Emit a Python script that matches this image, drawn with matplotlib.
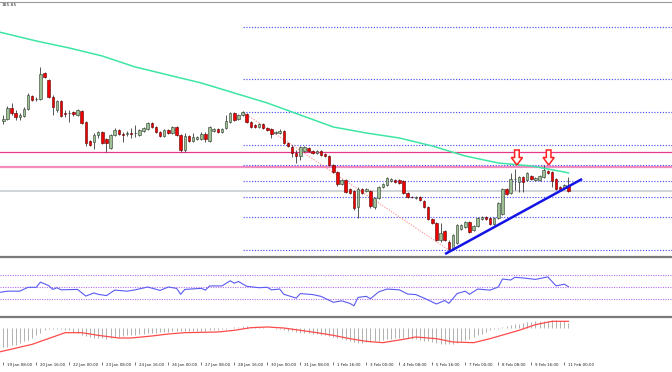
import numpy as np
import matplotlib
matplotlib.use('Agg')
import matplotlib.pyplot as plt
import matplotlib.transforms as mtransforms
from matplotlib.patches import Polygon
from matplotlib.lines import Line2D

# 4H candles, bar 0 = 19 Jan 08:00
opens = [173.95, 174.15, 175.25, 174.75, 174.35, 174.45, 175.15, 176.45, 176.10, 176.15,
         178.75, 178.05, 176.35, 175.05, 175.95, 174.75, 174.70, 174.85, 174.55, 174.95,
         173.85, 171.95, 171.85, 172.55, 172.85, 172.15, 171.25, 172.55, 173.05, 172.65,
         172.65, 172.75, 172.70, 172.55, 172.95, 173.15, 173.75, 173.35, 172.85, 172.45,
         173.05, 172.75, 173.35, 172.55, 171.05, 172.45, 171.95, 172.15, 172.15, 172.65,
         171.95, 172.95, 173.15, 172.85, 173.25, 173.85, 174.75, 174.15, 174.55, 174.65,
         173.85, 173.55, 173.35, 173.65, 173.25, 173.15, 172.75, 172.75, 172.95, 171.75,
         171.35, 170.75, 170.45, 170.95, 171.25, 170.95, 170.75, 170.95, 170.65, 170.45,
         169.55, 168.85, 167.65, 168.05, 167.15, 166.95, 165.35, 167.15, 166.95, 166.95,
         165.35, 166.25, 167.35, 167.55, 167.95, 168.05, 168.05, 167.95, 166.75, 166.35,
         166.25, 166.35, 165.95, 165.35, 164.15, 163.75, 162.05, 162.95, 161.85, 161.25,
         161.75, 163.15, 163.35, 163.85, 163.05, 163.45, 164.15, 164.35, 164.25, 163.65,
         164.25, 164.65, 167.15, 166.75, 168.10, 167.85, 168.35, 168.05, 168.45, 168.05,
         168.05, 168.35, 168.95, 168.85, 168.15, 167.35, 167.25, 167.45]
highs = [174.55, 175.45, 175.75, 175.05, 174.75, 175.35, 176.75, 176.55, 176.35, 179.35,
         178.85, 178.15, 176.55, 176.05, 176.05, 175.05, 175.05, 174.95, 175.15, 175.05,
         173.95, 172.05, 172.75, 172.95, 172.95, 172.25, 172.65, 173.25, 173.15, 172.85,
         172.95, 173.25, 173.55, 173.15, 173.35, 173.85, 173.85, 173.45, 172.95, 173.15,
         173.15, 173.45, 173.45, 172.65, 172.75, 172.55, 172.75, 172.45, 172.85, 172.85,
         173.45, 173.25, 173.25, 173.25, 174.55, 174.85, 174.85, 174.65, 174.90, 174.75,
         173.95, 173.65, 173.75, 173.75, 173.35, 173.25, 172.95, 173.15, 173.05, 171.85,
         171.55, 171.05, 171.45, 171.45, 171.35, 171.05, 171.05, 171.05, 170.75, 170.55,
         169.65, 168.95, 168.15, 168.15, 167.25, 167.05, 167.35, 167.25, 167.25, 167.05,
         166.35, 167.45, 167.75, 168.35, 168.25, 168.15, 168.15, 168.05, 166.85, 166.45,
         166.45, 166.45, 166.05, 165.45, 164.25, 163.85, 163.75, 163.05, 162.05, 162.65,
         163.65, 163.65, 163.95, 163.95, 163.55, 164.35, 164.45, 164.45, 164.35, 164.35,
         165.85, 167.25, 167.25, 168.75, 169.15, 168.45, 168.45, 168.85, 168.55, 168.35,
         168.55, 169.55, 169.05, 168.95, 168.25, 167.45, 167.65, 168.35]
lows = [173.65, 174.05, 174.55, 174.05, 174.05, 174.35, 175.05, 175.95, 175.95, 176.05,
        178.25, 176.25, 174.55, 174.85, 174.35, 174.35, 173.85, 174.45, 174.45, 173.65,
        171.45, 171.45, 171.15, 172.25, 171.65, 170.85, 171.15, 172.45, 172.55, 171.85,
        172.45, 172.25, 172.35, 172.45, 172.85, 173.05, 173.25, 172.75, 172.35, 172.35,
        172.65, 172.65, 172.45, 170.85, 170.85, 171.85, 171.85, 172.05, 172.05, 171.85,
        171.85, 172.85, 172.75, 172.75, 173.15, 173.75, 173.95, 174.05, 174.45, 173.75,
        173.25, 173.25, 173.25, 173.15, 172.95, 172.25, 172.65, 172.65, 171.65, 171.35,
        170.35, 169.75, 170.05, 170.85, 170.85, 170.65, 170.65, 170.45, 170.35, 169.45,
        168.75, 167.45, 167.55, 166.75, 166.65, 165.05, 164.25, 166.65, 166.85, 165.25,
        165.15, 166.15, 167.25, 167.45, 167.85, 167.75, 167.65, 166.65, 166.25, 166.25,
        166.15, 165.95, 165.25, 164.05, 163.65, 161.95, 161.85, 161.95, 160.95, 161.15,
        161.65, 163.05, 163.25, 162.75, 162.95, 163.35, 164.05, 164.05, 163.55, 163.55,
        164.15, 164.55, 166.55, 166.65, 167.05, 166.85, 166.85, 167.95, 168.05, 167.95,
        167.95, 168.25, 168.65, 167.35, 167.05, 167.05, 167.15, 166.85]
closes = [174.15, 175.25, 174.75, 174.35, 174.55, 175.15, 176.55, 176.05, 176.15, 178.65,
          178.35, 176.35, 175.35, 175.95, 174.45, 174.60, 174.75, 174.65, 175.05, 173.75,
          171.75, 171.55, 172.55, 172.85, 171.75, 171.75, 172.55, 173.05, 172.65, 172.55,
          172.75, 172.65, 172.75, 173.05, 173.25, 173.75, 173.35, 172.85, 172.45, 173.05,
          172.75, 173.35, 172.55, 171.05, 172.45, 171.95, 172.35, 172.35, 172.65, 172.15,
          173.35, 173.15, 172.85, 173.15, 173.95, 174.75, 174.05, 174.55, 174.80, 173.85,
          173.35, 173.35, 173.65, 173.25, 173.05, 172.65, 172.85, 172.95, 171.75, 171.45,
          170.75, 170.45, 171.35, 171.35, 170.95, 170.75, 170.95, 170.55, 170.45, 169.55,
          168.85, 167.65, 168.05, 166.85, 166.75, 165.25, 167.15, 166.75, 167.15, 165.45,
          166.25, 167.35, 167.65, 168.25, 168.15, 167.85, 167.75, 166.75, 166.35, 166.30,
          166.35, 166.05, 165.35, 164.15, 163.75, 162.05, 162.75, 162.05, 161.15, 162.55,
          163.55, 163.55, 163.85, 162.85, 163.45, 164.25, 164.35, 164.15, 163.65, 164.25,
          165.75, 167.15, 166.65, 168.15, 168.15, 168.35, 167.85, 168.75, 168.15, 168.25,
          168.45, 169.05, 168.75, 167.95, 167.15, 167.15, 167.55, 166.95]

# moving average read at a few bars
ma_bars = [-1, 0, 8, 16, 24, 32, 40, 48, 56, 64, 72, 80, 88, 96, 104, 112, 120, 128, 136, 137]
ma_vals = [182.85, 182.75, 181.95, 181.25, 180.45, 179.35, 178.55, 177.75, 176.75, 175.75,
           174.55, 173.35, 172.75, 172.25, 171.45, 170.45, 169.75, 169.45, 168.85, 168.75]

# horizontal resistance lines
resistance = [170.88, 169.32]

# fib retracement from the 28 Jan high to the 5 Feb low
fib_high_bar, fib_high = 58, 174.85
fib_low_bar, fib_low = 108, 161.05
fib_ratios = [0.0, 0.236, 0.382, 0.5, 0.618, 0.764, 1.0, 1.236, 1.618]

# bullish trend line
trend_bars = [107.1, 140.3]
trend_prices = [160.65, 168.15]

# down arrows (bar, top price)
arrow_bars = [124.5, 132.2]
arrow_tops = [171.05, 171.05]

# RSI
rsi_bars = [-1, 1, 4, 6, 8, 9, 11, 12, 13, 14, 18, 20, 22, 23, 25, 27, 30, 32, 35, 38,
            40, 42, 43, 44, 48, 49, 50, 53, 55, 56, 57, 59, 62, 64, 65, 67, 68, 71, 72, 75,
            77, 80, 82, 84, 85, 86, 88, 89, 91, 93, 96, 98, 100, 102, 105, 107, 108, 110, 112, 113,
            115, 118, 120, 121, 123, 124, 126, 129, 132, 134, 136, 137]
rsi_vals = [40.6, 42.9, 42.9, 49.5, 49.5, 58.3, 52.3, 45.9, 48.8, 45.2, 45.9, 34.6, 39.9, 37.6, 35.3, 44.7, 42.9, 45.2, 50.0, 44.2,
            50.0, 47.7, 37.6, 45.9, 47.7, 44.7, 51.8, 51.8, 60.6, 56.5, 59.4, 51.2, 48.8, 49.5, 45.2, 46.5, 37.6, 31.1, 38.8, 37.1,
            34.1, 24.0, 26.5, 22.2, 18.1, 32.3, 34.1, 30.0, 41.7, 46.5, 45.2, 38.1, 37.1, 31.1, 21.1, 27.0, 22.2, 38.8, 42.9, 37.6,
            46.5, 44.7, 50.0, 63.6, 61.9, 66.5, 65.4, 62.9, 67.2, 51.8, 54.8, 50.5]
rsi_levels = [70, 50, 30]

# MACD histogram, one value per bar
macd_hist = [-2.85, -2.85, -2.60, -2.50, -2.25, -2.00, -1.85, -1.50, -1.10, -0.70,
             -0.35, -0.20, -0.10, -0.20, -0.20, -0.35, -0.35, -0.60, -0.75, -1.10,
             -1.25, -1.35, -1.50, -1.50, -1.50, -1.60, -1.50, -1.35, -1.35, -1.20,
             -1.10, -1.10, -1.00, -0.90, -0.85, -0.75, -0.70, -0.70, -0.60, -0.60,
             -0.60, -0.50, -0.50, -0.50, -0.50, -0.50, -0.50, -0.50, -0.45, -0.40,
             -0.35, -0.35, -0.30, -0.20, -0.10, 0.05, 0.10, 0.15, 0.25, 0.25,
             0.20, 0.20, 0.15, 0.15, 0.05, 0.00, -0.10, -0.20, -0.30, -0.45,
             -0.50, -0.60, -0.70, -0.70, -0.75, -0.85, -0.95, -1.00, -1.10, -1.20,
             -1.35, -1.50, -1.60, -1.85, -2.00, -2.10, -2.20, -2.20, -2.10, -2.10,
             -2.00, -1.90, -1.80, -1.70, -1.60, -1.55, -1.50, -1.50, -1.50, -1.60,
             -1.70, -1.80, -1.90, -2.00, -2.10, -2.20, -2.35, -2.40, -2.40, -2.35,
             -2.20, -2.00, -1.80, -1.60, -1.35, -1.10, -0.85, -0.60, -0.35, -0.20,
             -0.10, 0.15, 0.30, 0.40, 0.55, 0.65, 0.75, 0.85, 0.95, 1.00,
             1.05, 1.05, 1.10, 1.15, 1.15, 1.10, 1.00, 0.80]
sig_bars = [-1, 7, 15, 19, 23, 28, 31, 36, 40, 44, 52, 56, 60, 64, 68, 72, 76, 80, 84, 88,
            92, 97, 100, 105, 109, 114, 118, 125, 129, 133, 137]
sig_vals = [-3.60, -2.45, -0.70, -0.70, -1.10, -1.50, -1.50, -1.20, -0.90, -0.70, -0.60, -0.35, 0.05, 0.15, 0.00,
            -0.35, -0.70, -1.10, -1.60, -2.00, -2.20, -1.70, -1.35, -1.60, -2.10, -2.20, -1.60, -0.35, 0.50, 1.00, 1.00]

date_labels = ['19 Jan 08:00', '20 Jan 16:00', '22 Jan 00:00', '23 Jan 08:00', '24 Jan 16:00',
               '26 Jan 00:00', '27 Jan 08:00', '28 Jan 16:00', '30 Jan 00:00', '31 Jan 08:00',
               '1 Feb 16:00', '3 Feb 00:00', '4 Feb 08:00', '5 Feb 16:00', '7 Feb 00:00',
               '8 Feb 08:00', '9 Feb 16:00', '11 Feb 00:00']
label_step = 8

H = 372.
fig = plt.figure(figsize=(6.72, 3.72), dpi=100)
fig.patch.set_facecolor('white')

ax = fig.add_axes([0, 1 - 256 / H, 1, 254 / H])
ax_rsi = fig.add_axes([0, 1 - 316.4 / H, 1, 58.8 / H], sharex=ax)
ax_macd = fig.add_axes([0, 1 - 362 / H, 1, 45 / H], sharex=ax)

for a in (ax, ax_rsi, ax_macd):
    for s in a.spines.values():
        s.set_visible(False)
    a.set_yticks([])
    a.tick_params(axis='x', which='both', labelbottom=False, length=0)

ax.set_xlim(-0.8, 162.1)
ax.set_ylim(160.45, 185.85)

o = np.array(opens)
h = np.array(highs)
l = np.array(lows)
c = np.array(closes)
bars = np.arange(len(o))
up = c >= o

# Wicks, then bodies.
ax.vlines(bars, l, h, color='#3a3a3a', lw=0.6, zorder=3)
body_lo = np.minimum(o, c)
body_h = np.maximum(np.abs(c - o), 0.02)
ax.bar(bars[up], body_h[up], bottom=body_lo[up], width=0.62, color='#9fbf95',
       edgecolor='#2b3a2b', lw=0.4, zorder=4)
ax.bar(bars[~up], body_h[~up], bottom=body_lo[~up], width=0.62, color='#ee0000',
       edgecolor='#5a0000', lw=0.4, zorder=4)

# Moving average.
ax.plot(ma_bars, ma_vals, color='#3de6a4', lw=1.1, zorder=5)

# Horizontal lines.
ax.axhline(resistance[0], color='#e8388c', lw=0.9, zorder=2)
ax.axhline(resistance[1], color='#f48cbf', lw=1.6, zorder=2)
ax.axhline(closes[-1], color='#c4c7ce', lw=1.1, zorder=1)

# Fibonacci levels.
xmax = ax.get_xlim()[1]
for r in fib_ratios:
    lvl = fib_low + r * (fib_high - fib_low)
    ax.plot([fib_high_bar, xmax], [lvl, lvl], color='#5050f5', lw=0.85,
            ls=(0, (1, 1.4)), zorder=2)
ax.plot([fib_high_bar, fib_low_bar], [fib_high, fib_low], color='#ff8c8c', lw=0.8,
        ls=(0, (1, 1.4)), zorder=2)

# Trend line.
ax.plot(trend_bars, trend_prices, color='#1414e6', lw=1.8, zorder=6, solid_capstyle='butt')

# Hollow arrows, drawn in pixels around their anchor.
shape = np.array([[-2.3, 0], [2.3, 0], [2.3, -7.5], [5.6, -7.5], [0, -15],
                  [-5.6, -7.5], [-2.3, -7.5]])
for b, p in zip(arrow_bars, arrow_tops):
    x0, y0 = ax.transData.transform((b, p))
    ax.add_patch(Polygon(shape + [x0, y0], closed=True, fc='white', ec='#ff2020', lw=1.1,
                         transform=mtransforms.IdentityTransform(), zorder=7))

# RSI panel.
ax_rsi.set_ylim(0, 100)
for lv in rsi_levels:
    ax_rsi.axhline(lv, color='#b46ef0', lw=0.8, ls=(0, (1, 1.2)))
ax_rsi.plot(rsi_bars, rsi_vals, color='#5a5af0', lw=0.8)

# MACD panel.
ax_macd.set_ylim(-5.1, 1.65)
ax_macd.vlines(bars, 0, macd_hist, color='#b0b0b0', lw=0.7)
ax_macd.plot(sig_bars, sig_vals, color='#ff4a4a', lw=0.9)

# Date labels with small ticks.
tick_bars = [i * label_step for i in range(len(date_labels))]
ax_macd.set_xticks(tick_bars)
ax_macd.tick_params(axis='x', direction='out', length=2.5, width=0.5, color='#404040',
                    labelbottom=False)
trans = mtransforms.blended_transform_factory(ax_macd.transData, ax_macd.transAxes)
trans = mtransforms.offset_copy(trans, fig=fig, x=3.5, y=-2.8, units='dots')
for b, s in zip(tick_bars, date_labels):
    ax_macd.text(b, 0, s, transform=trans, fontsize=2.9, ha='left', va='center',
                 color='#202020', clip_on=False)

# Frame lines between panels.
for ypx, col, w in [(1.5, '#9a9a9a', 0.8), (256.8, '#7a7a7a', 1.6), (316.8, '#7a7a7a', 1.6)]:
    fig.add_artist(Line2D([0, 1], [1 - ypx / H, 1 - ypx / H], transform=fig.transFigure,
                          color=col, lw=w))

fig.text(0.002, 1 - 2.6 / H, '185.85', fontsize=3.2, va='top', ha='left', color='#303030')

fig.savefig('out.png', dpi=100, facecolor='white')
